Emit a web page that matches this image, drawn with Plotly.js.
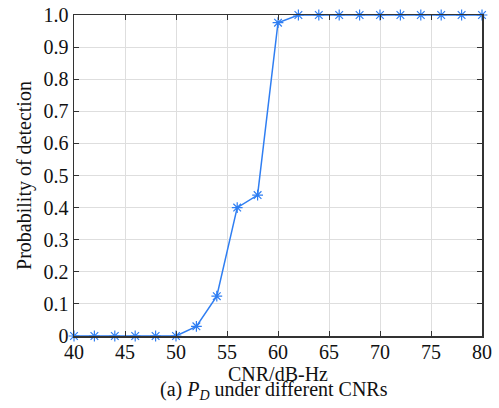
<!DOCTYPE html>
<html>
<head>
<meta charset="utf-8">
<script src="https://cdn.plot.ly/plotly-3.0.1.min.js"></script>
<style>html,body{margin:0;padding:0;background:#fff;}#chart{width:499px;height:408px;}</style>
</head>
<body>
<div id="chart"></div>
<script>
var cnr = [40,42,44,46,48,50,52,54,56,58,60,62,64,66,68,70,72,74,76,78,80];
var pd  = [0,0,0,0,0,0,0.03,0.124,0.40,0.439,0.976,1,1,1,1,1,1,1,1,1,1];
var xTicks = [40,45,50,55,60,65,70,75,80];
var yTicks = [0,0.1,0.2,0.3,0.4,0.5,0.6,0.7,0.8,0.9,1.0];
var yTickText = ['0','0.1','0.2','0.3','0.4','0.5','0.6','0.7','0.8','0.9','1.0'];

var font = {family: '"Liberation Serif", "Times New Roman", serif', size: 20, color: '#111'};

var trace = {
  x: cnr, y: pd, type: 'scatter', mode: 'lines+markers',
  line: {color: '#2f7ef2', width: 1.5},
  marker: {symbol: 'asterisk-open', size: 9, color: '#2f7ef2', line: {color: '#2f7ef2', width: 1.2}},
  cliponaxis: false
};

var layout = {
  width: 499, height: 408,
  margin: {l: 74, r: 17, t: 15, b: 72},
  paper_bgcolor: '#fff', plot_bgcolor: '#fff',
  font: font,
  showlegend: false,
  xaxis: {
    range: [40, 80], tickvals: xTicks, ticktext: xTicks.map(String),
    ticks: 'inside', ticklen: 5, tickcolor: '#333', mirror: 'ticks',
    showline: true, linecolor: '#333', linewidth: 1.5,
    showgrid: true, gridcolor: '#dedede', gridwidth: 1, zeroline: false,
    tickfont: font, ticklabelstandoff: -3,
    title: {text: 'CNR/dB-Hz', font: font, standoff: 0}
  },
  yaxis: {
    range: [0, 1], tickvals: yTicks, ticktext: yTickText,
    ticks: 'inside', ticklen: 5, tickcolor: '#333', mirror: 'ticks',
    showline: true, linecolor: '#333', linewidth: 1.5,
    showgrid: true, gridcolor: '#dedede', gridwidth: 1, zeroline: false,
    tickfont: font,
    title: {text: 'Probability of detection', font: font, standoff: 6}
  },
  annotations: [{
    text: '(a) <i>P</i><sub><i>D</i></sub> under different CNRs',
    xref: 'paper', yref: 'paper', x: 0.49, y: -0.171,
    xanchor: 'center', yanchor: 'middle', showarrow: false, font: font
  }]
};

Plotly.newPlot('chart', [trace], layout, {displayModeBar: false, staticPlot: true});
</script>
</body>
</html>
